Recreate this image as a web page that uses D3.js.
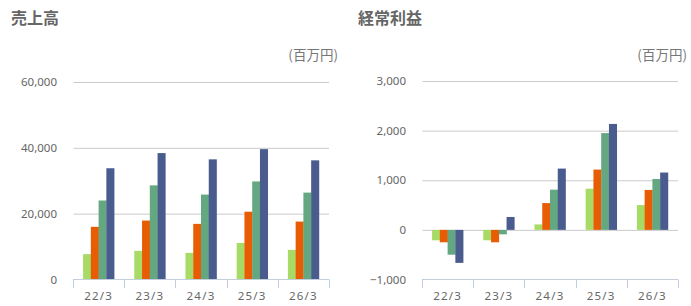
<!DOCTYPE html>
<html lang="ja">
<head>
  <meta charset="UTF-8">
  <title>売上高・経常利益</title>
  <script src="https://d3js.org/d3.v7.min.js"></script>
  <style>
    body { margin: 0; background: #fff; }
    svg { display: block; font-family: "Noto Sans CJK JP", "Noto Sans", sans-serif; }
  </style>
</head>
<body>
<script>
  const years = ['22/3', '23/3', '24/3', '25/3', '26/3'];
  const seriesKeys = ['s1', 's2', 's3', 's4'];
  const colors = ['#a8da66', '#e85d04', '#64a882', '#4a5b8e'];

  // 売上高 (百万円)
  const sales1 = [7700, 8700, 8100, 11100, 9000];
  const sales2 = [16000, 17900, 16900, 20600, 17600];
  const sales3 = [24000, 28600, 25800, 29800, 26400];
  const sales4 = [33800, 38400, 36500, 39600, 36200];
  const salesTicks = [0, 20000, 40000, 60000];

  // 経常利益 (百万円)
  const profit1 = [-210, -210, 110, 830, 500];
  const profit2 = [-250, -250, 540, 1215, 805];
  const profit3 = [-500, -90, 810, 1950, 1025];
  const profit4 = [-665, 260, 1235, 2135, 1155];
  const profitTicks = [-1000, 0, 1000, 2000, 3000];

  const svg = d3.select('body').append('svg')
    .attr('width', 691)
    .attr('height', 306);

  function drawPanel(opts) {
    const g = svg.append('g');
    const x = d3.scaleBand()
      .domain(years)
      .range([opts.left, opts.right]);
    const xs = d3.scaleBand()
      .domain(seriesKeys)
      .range([0, x.bandwidth()])
      .paddingOuter(1.3);
    const y = d3.scaleLinear()
      .domain(d3.extent(opts.ticks))
      .range([279.5, opts.top]);

    g.append('text')
      .attr('x', opts.titleX)
      .attr('y', 24)
      .attr('fill', '#666')
      .attr('font-size', 16)
      .attr('font-weight', 'bold')
      .text(opts.title);

    g.append('text')
      .attr('x', opts.right + 9)
      .attr('y', 60)
      .attr('text-anchor', 'end')
      .attr('fill', '#777')
      .attr('font-size', 13.5)
      .text('(百万円)');

    // grid + y labels
    const yAxis = g.append('g')
      .attr('transform', `translate(${opts.left},0)`)
      .call(d3.axisLeft(y).tickValues(opts.ticks).tickFormat(d3.format(',')).tickSize(0).tickPadding(16))
      .call(a => a.select('.domain').remove());
    yAxis.selectAll('text')
      .attr('fill', '#666')
      .attr('font-size', 11.5)
      .attr('font-family', '"Noto Sans", sans-serif');
    yAxis.selectAll('.tick')
      .filter(d => d !== opts.ticks[0])
      .append('line')
      .attr('x1', 0.5)
      .attr('x2', opts.right - opts.left)
      .attr('stroke', '#cbcbcb');

    // bars
    const rows = years.map((yr, i) => ({yr, vals: opts.data.map(s => s[i])}));
    g.append('g').selectAll('g')
      .data(rows)
      .join('g')
      .attr('transform', d => `translate(${x(d.yr)},0)`)
      .selectAll('rect')
      .data(d => d.vals.map((v, k) => ({k: seriesKeys[k], v, c: colors[k]})))
      .join('rect')
      .attr('x', d => xs(d.k))
      .attr('width', xs.bandwidth() + 0.3)
      .attr('y', d => y(Math.max(0, d.v)))
      .attr('height', d => Math.abs(y(d.v) - y(0)))
      .attr('fill', d => d.c);

    // x axis
    const xAxis = g.append('g')
      .attr('transform', `translate(0,${279.5})`)
      .call(d3.axisBottom(x).tickSize(0).tickPadding(12))
      .call(a => a.select('.domain').remove());
    xAxis.selectAll('text')
      .attr('fill', '#666')
      .attr('font-size', 11.5)
      .attr('letter-spacing', 1.2)
      .attr('font-family', '"Noto Sans", sans-serif');
    g.append('line')
      .attr('x1', opts.left).attr('x2', opts.right)
      .attr('y1', 279.5).attr('y2', 279.5)
      .attr('stroke', '#c3cedb');
    const edges = years.map(yr => x(yr)).concat([opts.right]);
    g.append('g').selectAll('line')
      .data(edges)
      .join('line')
      .attr('x1', d => Math.round(d) + 0.5)
      .attr('x2', d => Math.round(d) + 0.5)
      .attr('y1', 279.5)
      .attr('y2', 288)
      .attr('stroke', '#c3cedb');
  }

  drawPanel({
    title: '売上高', titleX: 11, left: 73, right: 329, top: 82,
    ticks: salesTicks, data: [sales1, sales2, sales3, sales4]
  });
  drawPanel({
    title: '経常利益', titleX: 358, left: 422, right: 678, top: 81,
    ticks: profitTicks, data: [profit1, profit2, profit3, profit4]
  });
</script>
</body>
</html>
